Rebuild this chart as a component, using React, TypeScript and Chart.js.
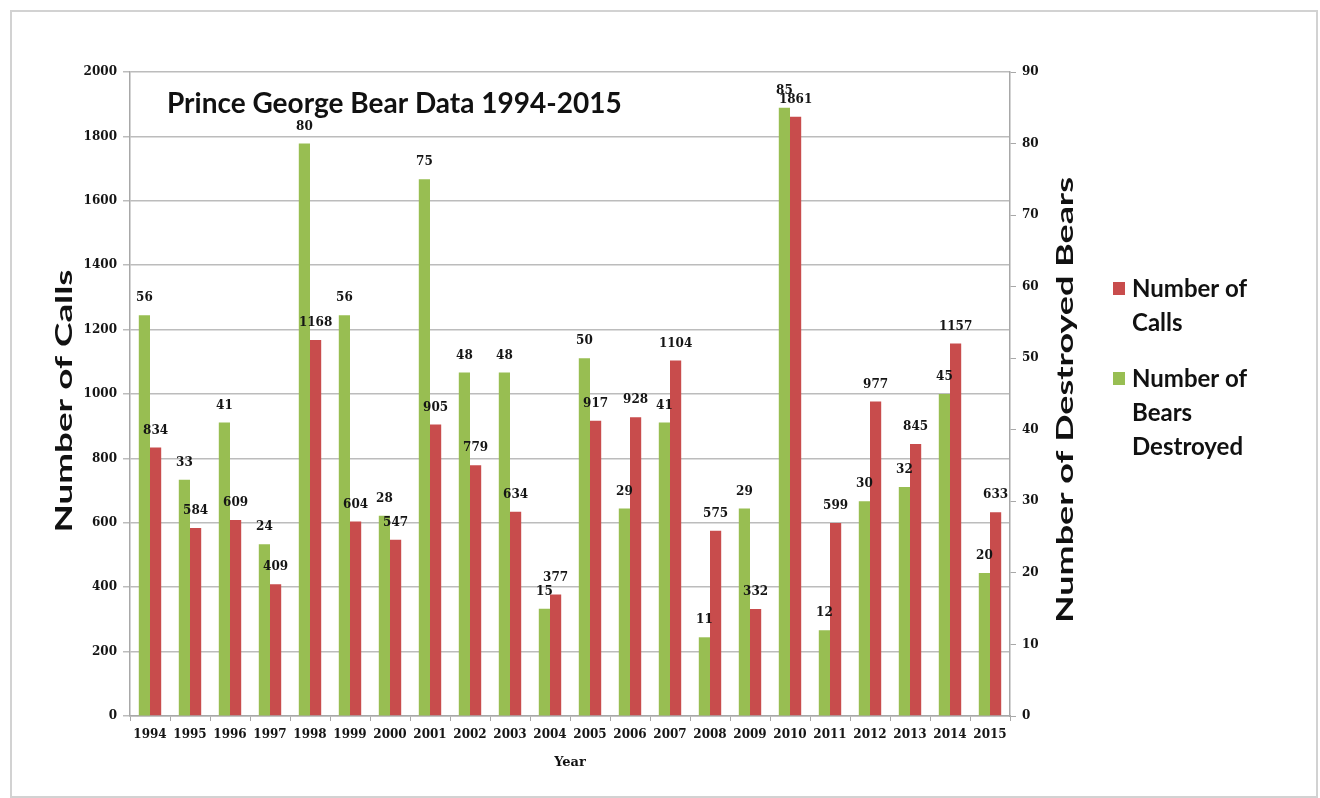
import React, { useEffect, useRef } from "react";
import { Chart, registerables } from "chart.js";

Chart.register(...registerables);

const years = ["1994", "1995", "1996", "1997", "1998", "1999", "2000", "2001", "2002", "2003", "2004", "2005", "2006", "2007", "2008", "2009", "2010", "2011", "2012", "2013", "2014", "2015"];
const calls = [834, 584, 609, 409, 1168, 604, 547, 905, 779, 634, 377, 917, 928, 1104, 575, 332, 1861, 599, 977, 845, 1157, 633];
const bearsDestroyed = [56, 33, 41, 24, 80, 56, 28, 75, 48, 48, 15, 50, 29, 41, 11, 29, 85, 12, 30, 32, 45, 20];

const chartTitle = "Prince George Bear Data 1994-2015";
const callsLegend = ["Number of", "Calls"];
const bearsLegend = ["Number of", "Bears", "Destroyed"];
const leftAxisTitle = "Number of Calls";
const rightAxisTitle = "Number of Destroyed Bears";
const xAxisTitle = "Year";
const leftMax = 2000;
const leftStep = 200;
const rightMax = 90;
const rightStep = 10;

const GREEN = "#98BE52";
const RED = "#C84C4C";
const TEXT = "#151515";
const SERIF = "'DejaVu Serif', 'Liberation Serif', serif";
const SANS = "Lato, 'Liberation Sans', Arial, sans-serif";

const textPlugin = {
  id: "textPlugin",
  afterDraw(chart: any) {
    const ctx = chart.ctx as CanvasRenderingContext2D;
    const area = chart.chartArea;
    ctx.save();
    // data labels
    ctx.font = `bold 12px ${SERIF}`;
    ctx.fillStyle = TEXT;
    ctx.textAlign = "center";
    ctx.textBaseline = "middle";
    chart.data.datasets.forEach((ds: any, di: number) => {
      const meta = chart.getDatasetMeta(di);
      meta.data.forEach((el: any, i: number) => {
        ctx.fillText(String(ds.data[i]), el.x, el.y - 17);
      });
    });

    // chart title
    ctx.font = `bold 28px ${SANS}`;
    ctx.textAlign = "left";
    ctx.textBaseline = "alphabetic";
    ctx.fillStyle = "#111";
    ctx.fillText(chartTitle, 167, 113);

    // rotated axis titles, stretched along their length
    const drawRotated = (text: string, cx: number, cy: number, len: number) => {
      ctx.save();
      ctx.font = `bold 23px ${SANS}`;
      ctx.textAlign = "center";
      ctx.textBaseline = "middle";
      const w = ctx.measureText(text).width;
      ctx.translate(cx, cy);
      ctx.rotate(-Math.PI / 2);
      ctx.scale(len / w, 1);
      ctx.fillText(text, 0, 0);
      ctx.restore();
    };
    drawRotated(leftAxisTitle, 65, 401, 263);
    drawRotated(rightAxisTitle, 1066, 400, 446);

    // x axis title
    ctx.font = `bold 13px ${SERIF}`;
    ctx.textAlign = "center";
    ctx.textBaseline = "middle";
    ctx.fillText(xAxisTitle, (area.left + area.right) / 2, 763);

    // legend
    ctx.font = `bold 24px ${SANS}`;
    ctx.textAlign = "left";
    ctx.fillStyle = RED;
    ctx.fillRect(1113, 282, 12, 13);
    ctx.fillStyle = GREEN;
    ctx.fillRect(1113, 372, 12, 13);
    ctx.fillStyle = "#111";
    callsLegend.forEach((t, i) => ctx.fillText(t, 1132, 289 + i * 34));
    bearsLegend.forEach((t, i) => ctx.fillText(t, 1132, 379 + i * 34));
    ctx.restore();
  },
};

export default function App() {
  const ref = useRef<HTMLCanvasElement | null>(null);
  useEffect(() => {
    if (!ref.current) return;
    const tickFont = { family: SERIF, weight: "bold" as const, size: 12 };
    const plain = (v: any) => String(v);
    const chart = new Chart(ref.current, {
      type: "bar",
      data: {
        labels: years,
        datasets: [
          {
            label: bearsLegend.join(" "),
            data: bearsDestroyed,
            backgroundColor: GREEN,
            yAxisID: "y1",
            categoryPercentage: 0.56,
            barPercentage: 1,
          },
          {
            label: callsLegend.join(" "),
            data: calls,
            backgroundColor: RED,
            yAxisID: "y",
            categoryPercentage: 0.56,
            barPercentage: 1,
          },
        ],
      },
      options: {
        responsive: false,
        animation: false,
        layout: { padding: { left: 0, right: 260, top: 72, bottom: 42 } },
        plugins: { legend: { display: false }, tooltip: { enabled: false }, title: { display: false } },
        scales: {
          x: {
            grid: { offset: true, drawOnChartArea: false, tickLength: 5, color: "#a8a8a8" },
            border: { color: "#a8a8a8", width: 1.5 },
            ticks: { font: tickFont, color: TEXT, padding: 7, maxRotation: 0, autoSkip: false },
            afterFit: (s: any) => { s.height = 40; },
          },
          y: {
            position: "left",
            min: 0,
            max: leftMax,
            ticks: { stepSize: leftStep, font: tickFont, color: TEXT, padding: 6, callback: plain },
            grid: { color: "#bcbcbc", lineWidth: 1.5, tickLength: 7 },
            border: { color: "#a8a8a8", width: 1.5 },
            afterFit: (s: any) => { s.width = 130; },
          },
          y1: {
            position: "right",
            min: 0,
            max: rightMax,
            ticks: { stepSize: rightStep, font: tickFont, color: TEXT, padding: 6, callback: plain },
            grid: { drawOnChartArea: false, color: "#a8a8a8", tickLength: 6 },
            border: { color: "#a8a8a8", width: 1.5 },
            afterFit: (s: any) => { s.width = 50; },
          },
        },
      },
      plugins: [textPlugin],
    });
    return () => chart.destroy();
  }, []);

  return (
    <div style={{ position: "absolute", left: 0, top: 0, width: 1320, height: 798, background: "#fff", overflow: "hidden" }}>
      <div style={{ position: "absolute", left: 10, top: 10, width: 1308, height: 788, border: "2px solid #d2d2d2", boxSizing: "border-box" }} />
      <canvas ref={ref} width={1320} height={798} style={{ position: "absolute", left: 0, top: 0, width: 1320, height: 798 }} />
    </div>
  );
}
